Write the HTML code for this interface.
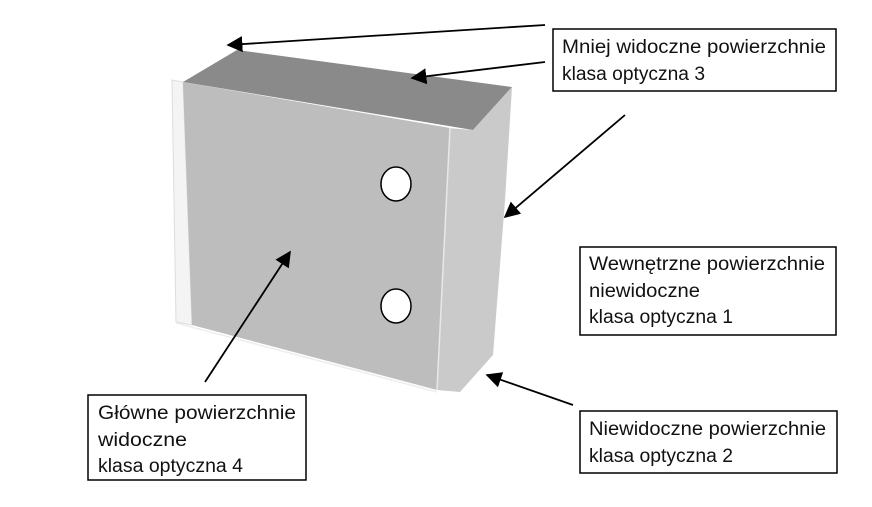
<!DOCTYPE html>
<html><head><style>
body{margin:0;background:#fff;}
svg{display:block;}
text{font-family:"Liberation Sans",sans-serif;font-size:19px;fill:#111;}
</style></head><body>
<svg width="872" height="507" viewBox="0 0 872 507">
<defs>
<marker id="b" viewBox="0 0 10 10" markerWidth="16" markerHeight="16" refX="9" refY="5" orient="auto" markerUnits="userSpaceOnUse"><path d="M0,0 L10,5 L0,10 z" fill="#000"/></marker></defs>
<polygon points="172,80 183,82 192,325 176,322" fill="#f4f4f4" stroke="#ddd" stroke-width="1"/>
<polygon points="183,82 237,50 512,87 473,130" fill="#8a8a8a"/>
<polygon points="447,128 473,130 512,87 505,200 493,355 460,392 437,390" fill="#cacaca"/>
<polygon points="183,82 450,128 437,390 192,325" fill="#bdbdbd"/>
<line x1="450" y1="128" x2="437" y2="390" stroke="#e8e8e8" stroke-width="1.5"/>
<line x1="176" y1="323" x2="437" y2="392" stroke="#eee" stroke-width="1.5"/>
<ellipse cx="396" cy="184" rx="15" ry="17" fill="#fff" stroke="#000" stroke-width="1.5"/>
<ellipse cx="396" cy="306" rx="15" ry="17" fill="#fff" stroke="#000" stroke-width="1.5"/>
<g stroke="#000" stroke-width="1.8" fill="none">
<line x1="545" y1="25" x2="228" y2="45" marker-end="url(#b)"/>
<line x1="545" y1="62" x2="412" y2="78" marker-end="url(#b)"/>
<line x1="625" y1="115" x2="505" y2="217" marker-end="url(#b)"/>
<line x1="205" y1="382" x2="290" y2="252" marker-end="url(#b)"/>
<line x1="573" y1="405" x2="487" y2="375" marker-end="url(#b)"/>
</g>
<g fill="#fff" stroke="#000" stroke-width="1.5">
<rect x="553" y="29" width="283" height="62"/>
<rect x="580" y="247" width="256" height="88"/>
<rect x="580" y="411" width="257" height="62"/>
<rect x="88" y="395" width="218" height="85"/>
</g>
<text x="562" y="53" textLength="264" lengthAdjust="spacingAndGlyphs">Mniej widoczne powierzchnie</text>
<text x="562" y="80" textLength="143" lengthAdjust="spacingAndGlyphs">klasa optyczna 3</text>
<text x="589" y="270" textLength="236" lengthAdjust="spacingAndGlyphs">Wewnętrzne powierzchnie</text>
<text x="589" y="297" textLength="111" lengthAdjust="spacingAndGlyphs">niewidoczne</text>
<text x="589" y="323" textLength="144" lengthAdjust="spacingAndGlyphs">klasa optyczna 1</text>
<text x="589" y="435" textLength="237" lengthAdjust="spacingAndGlyphs">Niewidoczne powierzchnie</text>
<text x="589" y="462" textLength="144" lengthAdjust="spacingAndGlyphs">klasa optyczna 2</text>
<text x="98" y="419" textLength="198" lengthAdjust="spacingAndGlyphs">Główne powierzchnie</text>
<text x="98" y="446" textLength="89" lengthAdjust="spacingAndGlyphs">widoczne</text>
<text x="98" y="472" textLength="145" lengthAdjust="spacingAndGlyphs">klasa optyczna 4</text>
</svg>
</body></html>
